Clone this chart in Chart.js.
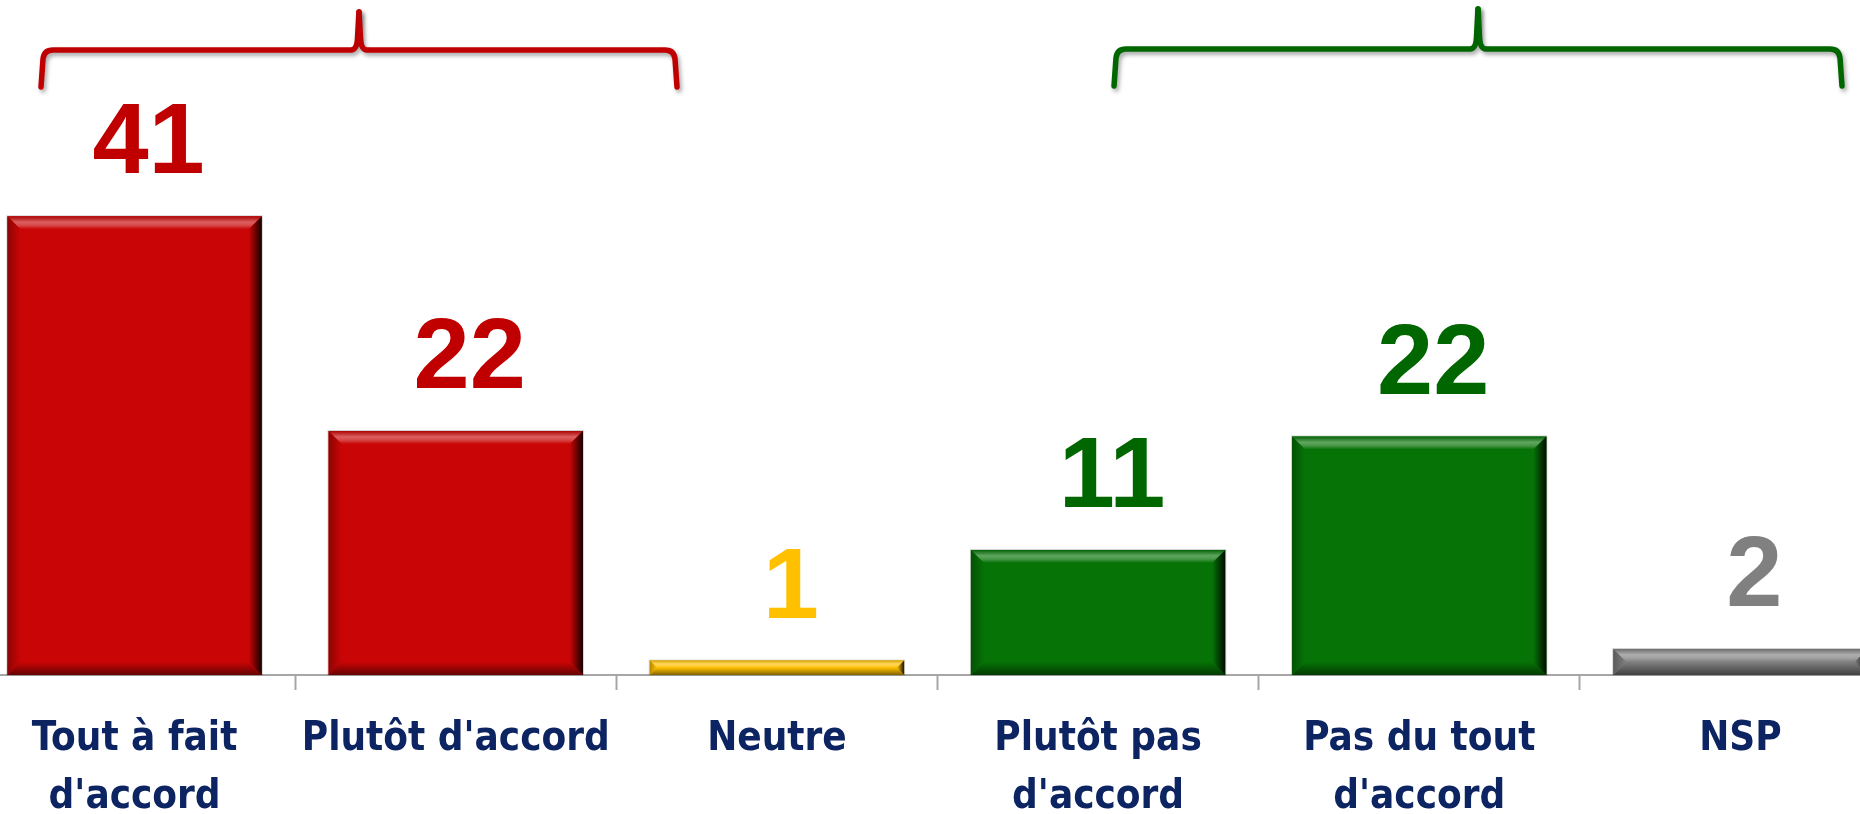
<!DOCTYPE html>
<html lang="fr">
<head>
<meta charset="utf-8">
<title>Accord</title>
<script src="https://cdn.jsdelivr.net/npm/chart.js@4.4.1/dist/chart.umd.min.js"></script>
<style>
    html, body { margin: 0; padding: 0; background: #ffffff; overflow: hidden; }
    body { width: 1860px; height: 814px; position: relative; }
    #wrap { position: absolute; left: -26px; top: 0; width: 1927px; height: 814px; }
</style>
</head>
<body>
<div id="wrap"><canvas id="base"></canvas></div>
<script>
// Data
const categories = [["Tout à fait", "d'accord"], "Plutôt d'accord", "Neutre", ["Plutôt pas", "d'accord"], ["Pas du tout", "d'accord"], "NSP"];
const values = [41.45, 22.05, 1.3, 11.3, 21.55, 2.35];

// Colours
const barColors = ["#c90505", "#c90505", "#ffc000", "#067306", "#067306", "#808080"];
const labelColors = ["#c00000", "#c00000", "#ffc000", "#006600", "#006600", "#808080"];

// Helpers
const mix = (hex, target, t) => {
    const n = parseInt(hex.slice(1), 16);
    const c = [(n >> 16) & 255, (n >> 8) & 255, n & 255];
    const o = c.map((v) => Math.round(v + (target - v) * t));
    return "rgb(" + o.join(",") + ")";
};

// Bevel look on the bars
const bevel = {
    id: "bevel",
    afterDatasetsDraw(chart) {
        const ctx = chart.ctx;
        chart.getDatasetMeta(0).data.forEach((bar, i) => {
            const { x, y, base, width } = bar.getProps(["x", "y", "base", "width"], true);
            const l = x - width / 2, r = x + width / 2, t = y, b = base;
            const h = b - t;
            const s = Math.min(13, h / 2, width / 2);
            const c = barColors[i];
            ctx.save();

            // thin outline
            ctx.strokeStyle = "rgba(0,0,0,0.18)";
            ctx.lineWidth = 1;
            ctx.strokeRect(l - 0.5, t - 0.5, width + 1, h + 0.5);

            // top
            let g = ctx.createLinearGradient(0, t, 0, t + s);
            g.addColorStop(0, mix(c, 0, 0.15));
            g.addColorStop(0.45, mix(c, 255, 0.36));
            g.addColorStop(0.7, mix(c, 255, 0.26));
            g.addColorStop(1, c);
            ctx.fillStyle = g;
            ctx.beginPath();
            ctx.moveTo(l, t); ctx.lineTo(r, t); ctx.lineTo(r - s, t + s); ctx.lineTo(l + s, t + s);
            ctx.closePath(); ctx.fill();

            // bottom
            g = ctx.createLinearGradient(0, b - s, 0, b);
            g.addColorStop(0, c);
            g.addColorStop(1, mix(c, 0, 0.5));
            ctx.fillStyle = g;
            ctx.beginPath();
            ctx.moveTo(l, b); ctx.lineTo(r, b); ctx.lineTo(r - s, b - s); ctx.lineTo(l + s, b - s);
            ctx.closePath(); ctx.fill();

            // left
            g = ctx.createLinearGradient(l, 0, l + s, 0);
            g.addColorStop(0, mix(c, 0, 0.3));
            g.addColorStop(1, c);
            ctx.fillStyle = g;
            ctx.beginPath();
            ctx.moveTo(l, t); ctx.lineTo(l + s, t + s); ctx.lineTo(l + s, b - s); ctx.lineTo(l, b);
            ctx.closePath(); ctx.fill();

            // right
            g = ctx.createLinearGradient(r - s, 0, r, 0);
            g.addColorStop(0, c);
            g.addColorStop(1, mix(c, 0, 0.9));
            ctx.fillStyle = g;
            ctx.beginPath();
            ctx.moveTo(r, t); ctx.lineTo(r, b); ctx.lineTo(r - s, b - s); ctx.lineTo(r - s, t + s);
            ctx.closePath(); ctx.fill();

            // value label
            ctx.fillStyle = labelColors[i];
            ctx.font = "bold 101px 'Liberation Sans', Arial, sans-serif";
            ctx.textAlign = "center";
            ctx.textBaseline = "alphabetic";
            ctx.fillText(String(Math.round(values[i])), x + 14, t - 43);
            ctx.restore();
        });
    },
};

// Braces above the groups
const braces = {
    id: "braces",
    afterDraw(chart) {
        const ctx = chart.ctx;
        const dx = 26; // wrapper offset
        const draw = (x0, x1, xm, yLine, yEnd, yPeak, color) => {
            x0 += dx; x1 += dx; xm += dx;
            ctx.save();
            ctx.strokeStyle = color;
            ctx.lineWidth = 5.5;
            ctx.lineCap = "round";
            ctx.lineJoin = "round";
            ctx.shadowColor = "rgba(0,0,0,0.35)";
            ctx.shadowBlur = 4;
            ctx.shadowOffsetX = 2;
            ctx.shadowOffsetY = 3;
            [[x0, 1], [x1, -1]].forEach(([xe, d]) => {
                ctx.beginPath();
                ctx.moveTo(xe, yEnd);
                ctx.lineTo(xe + d * 2, yLine + 9);
                ctx.quadraticCurveTo(xe + d * 3, yLine, xe + d * 12, yLine);
                ctx.lineTo(xm - d * 8, yLine);
                ctx.quadraticCurveTo(xm - d * 2, yLine, xm - d * 1.5, yLine - 12);
                ctx.lineTo(xm, yPeak);
                ctx.stroke();
            });
            ctx.restore();
        };
        draw(41, 677, 359, 50, 87, 12, "#c00000");
        draw(1114, 1842, 1478, 49, 86, 9, "#006600");
    },
};

// Get Container
const el = document.getElementById("base").getContext("2d");

// Chart
new Chart(el, {
    type: "bar",
    data: {
        labels: categories,
        datasets: [
            {
                data: values,
                backgroundColor: barColors,
                borderWidth: 0,
                categoryPercentage: 1,
                barPercentage: 0.792,
            },
        ],
    },
    options: {
        responsive: true,
        maintainAspectRatio: false,
        animation: false,
        layout: { padding: 0 },
        scales: {
            y: {
                display: false,
                min: 0,
                max: 61,
            },
            x: {
                afterFit: (scale) => {
                    scale.height = 139;
                },
                border: { display: true, color: "#a6a6a6", width: 2 },
                grid: {
                    display: true,
                    drawOnChartArea: false,
                    drawTicks: true,
                    tickLength: 15,
                    tickWidth: 2,
                    tickColor: "#a6a6a6",
                },
                ticks: {
                    padding: 21,
                    color: "#0c2461",
                    maxRotation: 0,
                    autoSkip: false,
                    font: {
                        family: "'DejaVu Sans Condensed', 'DejaVu Sans', sans-serif",
                        weight: "bold",
                        size: 40,
                        lineHeight: 1.44,
                    },
                },
            },
        },
        plugins: {
            legend: { display: false },
            tooltip: { enabled: false },
        },
    },
    plugins: [bevel, braces],
});
</script>
</body>
</html>
